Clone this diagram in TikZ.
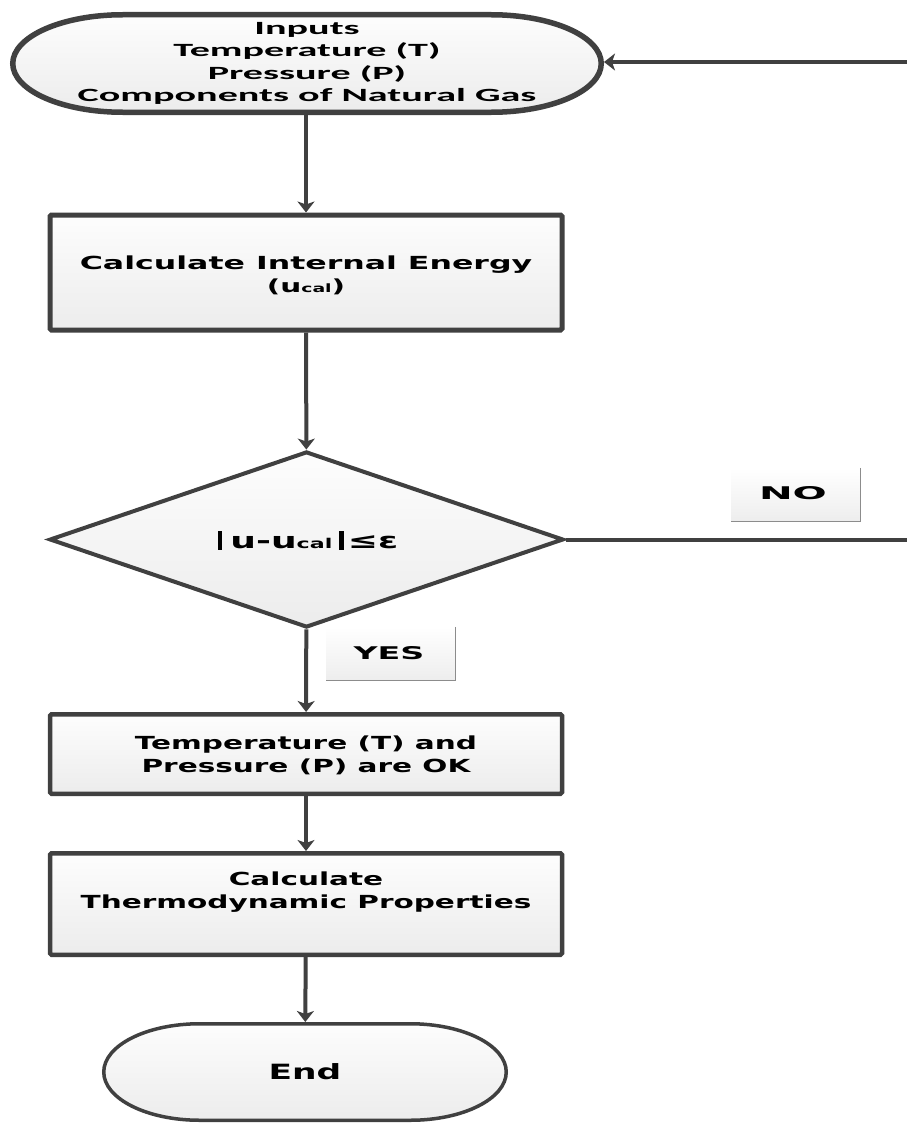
\documentclass[tikz,border=0pt]{standalone}
\usepackage{fontspec}
\usepackage{graphicx}
\usetikzlibrary{shapes.geometric,arrows.meta,calc}

% wide bold faces used in the flowchart
\newfontfamily\stepfont{DejaVu Sans}[FakeStretch=1.64]
\newfontfamily\inputsfont{Carlito}[FakeStretch=2.15]
\newfontfamily\tagfont{DejaVu Sans}

\definecolor{edge}{RGB}{64,64,64}
\definecolor{paleA}{RGB}{253,253,253}
\definecolor{paleB}{RGB}{236,236,236}

% heavy absolute-value bar
\newcommand\absbar{\rule[-1pt]{4.5pt}{19pt}}

\tikzset{
  boxfill/.style={top color=paleA, bottom color=paleB},
  stepbox/.style={rectangle, draw=edge, boxfill, line width=5pt, minimum width=512pt,
                  inner sep=0pt, rounded corners=1.5pt},
  steptext/.style={font=\stepfont\bfseries\fontsize{18}{23}\selectfont, align=center, inner sep=0pt},
  conn/.style={draw=edge, line width=4pt, -{Stealth[length=11pt, width=17pt, inset=3pt]}},
  plainline/.style={draw=edge, line width=4pt},
  tagbox/.style={rectangle, minimum width=129pt, minimum height=53pt, top color=white,
                 bottom color=black!7, inner sep=0pt},
  tagshadow/.style={draw=black!45, line width=1.3pt},
  tagtext/.style={font=\tagfont\bfseries\fontsize{17.5}{20}\selectfont, inner sep=0pt},
}

\begin{document}
\begin{tikzpicture}[x=1pt, y=1pt]
  \fill[white] (0,0) rectangle (907,-1124);
  \useasboundingbox (0,0) rectangle (907,-1124);

  % start terminal (elliptic ends)
  \coordinate (inC) at (307,-63.5);
  \draw[edge, line width=5.5pt, boxfill]
    ([shift={(-184.25,48.75)}]inC) -- ([shift={(184.25,48.75)}]inC)
    arc[start angle=90, end angle=-90, x radius=110pt, y radius=48.75pt]
    -- ([shift={(-184.25,-48.75)}]inC)
    arc[start angle=270, end angle=90, x radius=110pt, y radius=48.75pt] -- cycle;
  \node[rectangle, minimum width=594pt, minimum height=103pt, inner sep=0pt, outer sep=0pt,
        align=center, font=\inputsfont\bfseries\fontsize{18.67}{22.6}\selectfont]
    (inputs) at (inC) {Inputs\\Temperature (T)\\Pressure (P)\\Components of Natural Gas};

  % process steps
  \node[stepbox, minimum height=115pt] (energy) at (306,-272.5) {};
  \node[steptext] (energytxt) at (306,-275)
    {\scalebox{1.07}[1]{Calculate Internal Energy}\\(u{\fontsize{11.5}{12}\selectfont cal})};

  \node[diamond, draw=edge, line width=4pt, boxfill, minimum width=514pt, minimum height=176pt,
        inner sep=0pt] (check) at (306.5,-539.5) {};
  \node[steptext, font=\stepfont\bfseries\fontsize{22}{24}\selectfont] (checktxt) at (308,-540)
    {\absbar\hspace{8pt}u-u{\fontsize{13.5}{14}\selectfont cal}\hspace{7pt}\absbar\hspace{4pt}≤ε};

  \node[stepbox, line width=4.5pt, minimum height=79.5pt] (ok) at (306,-754) {};
  \node[steptext] (oktxt) at (306,-755) {Temperature (T) and\\Pressure (P) are OK};

  \node[stepbox, line width=4.5pt, minimum height=101.5pt] (props) at (306,-904) {};
  \node[steptext] (propstxt) at (306,-892) {Calculate\\Thermodynamic Properties};

  % end terminal
  \coordinate (endC) at (305,-1072);
  \draw[edge, line width=3.5pt, boxfill]
    ([shift={(-105.25,48.25)}]endC) -- ([shift={(105.25,48.25)}]endC)
    arc[start angle=90, end angle=-90, x radius=96pt, y radius=48.25pt]
    -- ([shift={(-105.25,-48.25)}]endC)
    arc[start angle=270, end angle=90, x radius=96pt, y radius=48.25pt] -- cycle;
  \node[rectangle, minimum width=406pt, minimum height=100pt, inner sep=0pt, outer sep=0pt,
        font=\stepfont\bfseries\fontsize{21}{22}\selectfont]
    (finish) at (endC) {End};

  % branch tags
  \node[tagbox] (notag) at (795.5,-494.5) {};
  \draw[tagshadow] (notag.north east) -- (notag.south east) -- (notag.south west);
  \node[tagtext] (notxt) at (793,-493) {\scalebox{2.3}[1]{NO}};

  \node[tagbox] (yestag) at (390.5,-653.5) {};
  \draw[tagshadow] (yestag.north east) -- (yestag.south east) -- (yestag.south west);
  \node[tagtext] (yestxt) at (389,-653) {\scalebox{1.9}[1]{YES}};

  % connectors
  \coordinate (loopin) at (907,-62);
  \coordinate (loopout) at (907,-539.5);
  \draw[conn] (loopin) -- (loopin -| inputs.east);
  \draw[conn] (inputs.south -| energy.north) -- (energy.north);
  \draw[conn] (energy) -- (check);
  \draw[plainline] (check.east) -- (loopout);
  \draw[conn] (check) -- (ok);
  \draw[conn] (ok) -- (props);
  \draw[conn] (props) -- (finish);
\end{tikzpicture}
\end{document}
